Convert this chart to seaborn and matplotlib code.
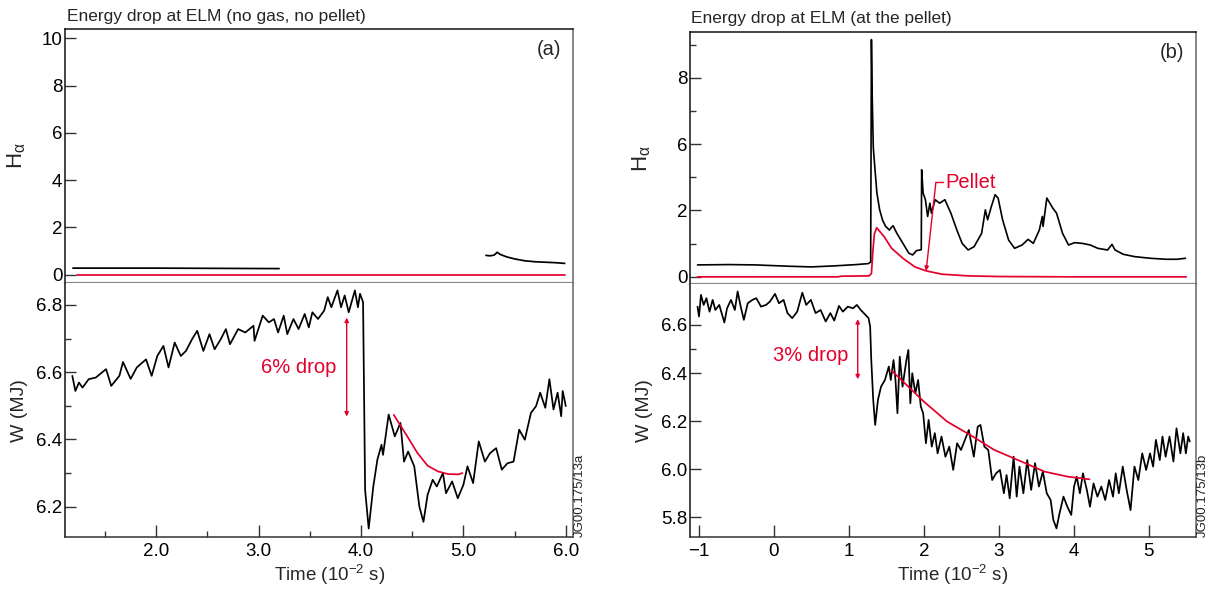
import numpy as np
import matplotlib
matplotlib.use("Agg")
import matplotlib.pyplot as plt
import seaborn as sns

# ---------------- data ----------------
# Panel (a): H-alpha (black, two segments) and red trace
a_ha1_t = [1.186, 2.0, 2.6, 3.2]
a_ha1_v = [0.28, 0.28, 0.27, 0.26]
a_ha2_t = [5.22, 5.26, 5.30, 5.33, 5.36, 5.42, 5.50, 5.60, 5.70, 5.80, 5.90, 5.99]
a_ha2_v = [0.82, 0.80, 0.83, 0.95, 0.86, 0.76, 0.67, 0.59, 0.55, 0.53, 0.51, 0.48]
a_red_t = [1.23, 5.99]
a_red_v = [0.0, 0.0]

# Panel (a): stored energy W (MJ)
a_w_t = [1.18, 1.21, 1.245, 1.28, 1.34, 1.41, 1.51, 1.56, 1.64, 1.675,
         1.75, 1.81, 1.90, 1.955, 2.01, 2.07, 2.12, 2.18, 2.24, 2.29,
         2.35, 2.40, 2.46, 2.52, 2.57, 2.63, 2.68, 2.72, 2.80, 2.87,
         2.95, 2.96, 3.04, 3.10, 3.15, 3.19, 3.245, 3.28, 3.34, 3.39,
         3.45, 3.49, 3.525, 3.58, 3.64, 3.675, 3.71, 3.77, 3.805, 3.84,
         3.88, 3.94, 3.97, 3.99, 4.02, 4.04, 4.075, 4.12, 4.16, 4.20,
         4.215, 4.27, 4.33, 4.385, 4.42, 4.46, 4.52, 4.57, 4.61, 4.65,
         4.70, 4.74, 4.80, 4.83, 4.89, 4.945, 5.00, 5.04, 5.095, 5.15,
         5.21, 5.26, 5.32, 5.375, 5.43, 5.49, 5.545, 5.60, 5.66, 5.71,
         5.75, 5.80, 5.84, 5.88, 5.92, 5.955, 5.97, 6.00]
a_w_v = [6.589, 6.544, 6.569, 6.554, 6.579, 6.584, 6.609, 6.559, 6.589, 6.630,
         6.580, 6.614, 6.638, 6.589, 6.648, 6.678, 6.614, 6.688, 6.648, 6.663,
         6.698, 6.723, 6.663, 6.713, 6.668, 6.698, 6.728, 6.683, 6.728, 6.718,
         6.738, 6.693, 6.768, 6.748, 6.758, 6.718, 6.768, 6.713, 6.758, 6.728,
         6.773, 6.733, 6.778, 6.758, 6.783, 6.823, 6.793, 6.843, 6.793, 6.828,
         6.778, 6.843, 6.793, 6.833, 6.808, 6.250, 6.135, 6.260, 6.340, 6.384,
         6.354, 6.474, 6.409, 6.449, 6.334, 6.364, 6.320, 6.200, 6.155, 6.235,
         6.280, 6.260, 6.300, 6.240, 6.275, 6.225, 6.265, 6.320, 6.270, 6.394,
         6.334, 6.359, 6.374, 6.310, 6.329, 6.334, 6.429, 6.399, 6.479, 6.499,
         6.539, 6.494, 6.579, 6.489, 6.539, 6.469, 6.544, 6.499]
a_fit_t = [4.32, 4.45, 4.55, 4.65, 4.75, 4.85, 4.95, 4.99]
a_fit_v = [6.473, 6.41, 6.36, 6.322, 6.305, 6.297, 6.296, 6.300]

# Panel (b): H-alpha (black) and pellet trace (red)
b_ha_t = [-1.02, -0.6, -0.25, 0.2, 0.5, 0.8, 1.1, 1.26, 1.29, 1.30,
          1.31, 1.325, 1.337, 1.373, 1.41, 1.45, 1.49, 1.54, 1.57, 1.59,
          1.62, 1.64, 1.72, 1.80, 1.85, 1.90, 1.95, 1.965, 1.97, 1.99,
          2.02, 2.05, 2.08, 2.10, 2.15, 2.21, 2.28, 2.36, 2.44, 2.51,
          2.59, 2.67, 2.77, 2.82, 2.85, 2.90, 2.95, 2.99, 3.05, 3.13,
          3.21, 3.31, 3.39, 3.46, 3.54, 3.58, 3.59, 3.64, 3.72, 3.77,
          3.85, 3.93, 4.01, 4.11, 4.22, 4.32, 4.45, 4.51, 4.55, 4.66,
          4.81, 5.02, 5.23, 5.38, 5.49]
b_ha_v = [0.36, 0.37, 0.36, 0.32, 0.30, 0.33, 0.37, 0.40, 0.45, 9.15,
          7.5, 5.8, 5.07, 3.06, 2.04, 1.70, 1.52, 1.41, 1.50, 1.54,
          1.40, 1.31, 1.01, 0.71, 0.66, 0.79, 0.81, 0.82, 4.45, 3.05,
          2.65, 1.82, 2.44, 1.92, 2.65, 2.44, 2.65, 1.92, 1.41, 1.01,
          0.81, 0.91, 1.31, 2.04, 1.72, 2.24, 2.95, 2.75, 1.72, 1.11,
          0.86, 0.96, 1.13, 1.01, 1.41, 1.82, 1.52, 2.75, 2.14, 1.92,
          1.31, 0.96, 1.03, 1.01, 0.96, 0.86, 0.81, 0.98, 0.81, 0.68,
          0.61, 0.56, 0.53, 0.53, 0.56]
b_red_t = [-1.02, 0.85, 0.9, 1.27, 1.30, 1.32, 1.34, 1.37, 1.40, 1.47,
           1.57, 1.72, 1.88, 2.03, 2.24, 2.59, 3.0, 4.0, 5.5]
b_red_v = [0.0, 0.0, 0.02, 0.03, 0.10, 0.80, 1.30, 1.48, 1.40, 1.21,
           0.86, 0.56, 0.30, 0.18, 0.08, 0.03, 0.01, 0.0, 0.0]

# Panel (b): stored energy W (MJ)
b_w_t = [-1.02, -1.0, -0.974, -0.938, -0.901, -0.86, -0.818, -0.782, -0.73, -0.662,
         -0.626, -0.574, -0.522, -0.485, -0.444, -0.402, -0.35, -0.288, -0.236, -0.173,
         -0.106, -0.054, 0.014, 0.066, 0.128, 0.18, 0.243, 0.31, 0.378, 0.43,
         0.492, 0.555, 0.622, 0.69, 0.752, 0.804, 0.867, 0.919, 0.986, 1.054,
         1.106, 1.158, 1.22, 1.262, 1.283, 1.298, 1.324, 1.35, 1.387, 1.428,
         1.48, 1.532, 1.558, 1.595, 1.621, 1.647, 1.678, 1.715, 1.767, 1.793,
         1.819, 1.845, 1.886, 1.923, 1.959, 1.99, 2.027, 2.063, 2.105, 2.146,
         2.183, 2.235, 2.287, 2.339, 2.391, 2.443, 2.495, 2.547, 2.599, 2.666,
         2.718, 2.755, 2.807, 2.859, 2.911, 2.963, 3.015, 3.067, 3.103, 3.145,
         3.197, 3.238, 3.275, 3.327, 3.379, 3.431, 3.483, 3.535, 3.587, 3.639,
         3.691, 3.727, 3.769, 3.81, 3.862, 3.914, 3.966, 4.003, 4.039, 4.081,
         4.122, 4.174, 4.216, 4.263, 4.315, 4.367, 4.419, 4.471, 4.523, 4.559,
         4.601, 4.653, 4.705, 4.757, 4.809, 4.861, 4.913, 4.965, 5.017, 5.058,
         5.095, 5.147, 5.183, 5.225, 5.277, 5.329, 5.37, 5.422, 5.459, 5.495,
         5.526, 5.547]
b_w_v = [6.676, 6.635, 6.725, 6.683, 6.711, 6.655, 6.704, 6.662, 6.683, 6.610,
         6.669, 6.704, 6.662, 6.739, 6.676, 6.621, 6.690, 6.704, 6.711, 6.676,
         6.683, 6.697, 6.729, 6.690, 6.704, 6.649, 6.628, 6.655, 6.734, 6.683,
         6.704, 6.649, 6.662, 6.614, 6.649, 6.618, 6.679, 6.655, 6.676, 6.669,
         6.683, 6.662, 6.642, 6.628, 6.593, 6.454, 6.288, 6.184, 6.288, 6.343,
         6.371, 6.427, 6.371, 6.454, 6.371, 6.233, 6.468, 6.343, 6.454, 6.496,
         6.274, 6.399, 6.316, 6.371, 6.260, 6.233, 6.108, 6.205, 6.094, 6.150,
         6.066, 6.136, 6.052, 6.094, 5.997, 6.108, 6.080, 6.122, 6.163, 6.052,
         6.177, 6.184, 6.094, 6.080, 5.955, 5.983, 5.997, 5.900, 5.976, 5.879,
         6.052, 5.886, 6.011, 5.900, 6.038, 5.914, 6.025, 5.928, 5.990, 5.900,
         5.872, 5.789, 5.754, 5.817, 5.886, 5.844, 5.810, 5.928, 5.969, 5.900,
         5.983, 5.914, 5.844, 5.941, 5.886, 5.928, 5.872, 5.955, 5.886, 5.983,
         5.900, 6.011, 5.914, 5.830, 6.011, 5.955, 6.066, 5.997, 6.066, 6.011,
         6.122, 6.038, 6.136, 6.052, 6.136, 6.032, 6.170, 6.066, 6.150, 6.066,
         6.136, 6.115]
b_fit_t = [1.57, 2.0, 2.31, 2.62, 2.94, 3.30, 3.61, 3.92, 4.21]
b_fit_v = [6.41, 6.281, 6.198, 6.142, 6.080, 6.032, 5.990, 5.969, 5.958]

titles = ["Energy drop at ELM (no gas, no pellet)", "Energy drop at ELM (at the pellet)"]
panel_tags = ["(a)", "(b)"]
drop_labels = ["6% drop", "3% drop"]
code_labels = ["JG00.175/13a", "JG00.175/13b"]
a_xticks = [2.0, 3.0, 4.0, 5.0, 6.0]
b_xticks = [-1, 0, 1, 2, 3, 4, 5]
b_ha_ticks = [0, 2, 6, 8]

# ---------------- style ----------------
sns.set_theme(style="ticks")
plt.rcParams["font.family"] = ["Liberation Sans", "DejaVu Sans"]
plt.rcParams["mathtext.fontset"] = "custom"
plt.rcParams["mathtext.rm"] = "Liberation Sans"
plt.rcParams["mathtext.it"] = "Liberation Sans:italic"
plt.rcParams["mathtext.default"] = "rm"

RED = "#e4002b"
BLACK = "#000000"
TICK_FS = 13.5
LAB_FS = 14
TITLE_FS = 12.5
ANN_FS = 14.5

fig = plt.figure(figsize=(12.11, 5.89), dpi=100)
fig.patch.set_facecolor("white")

ax_a1 = fig.add_axes([0.0537, 0.5195, 0.4195, 0.4313])
ax_a2 = fig.add_axes([0.0537, 0.0878, 0.4195, 0.4317])
ax_b1 = fig.add_axes([0.5698, 0.5170, 0.4178, 0.4287])
ax_b2 = fig.add_axes([0.5698, 0.0878, 0.4178, 0.4292])


def style_axes(ax, top):
    ax.set_facecolor("white")
    ax.grid(False)
    for s in ax.spines.values():
        s.set_linewidth(1.1)
    ax.spines["left"].set_color("#111111")
    ax.spines["right"].set_color("#666666")
    if top:
        ax.spines["top"].set_color("#111111")
        ax.spines["bottom"].set_color("#888888")
        ax.spines["bottom"].set_linewidth(1.6)
        ax.tick_params(axis="x", which="both", bottom=False, labelbottom=False)
    else:
        ax.spines["top"].set_visible(False)
        ax.spines["bottom"].set_color("#333333")
    ax.tick_params(axis="both", which="both", direction="in", colors="#333333",
                   labelcolor="black", labelsize=TICK_FS, width=1.0)
    ax.tick_params(axis="both", which="major", length=8)
    ax.tick_params(axis="both", which="minor", length=4.5)
    ax.tick_params(axis="y", pad=2)
    ax.tick_params(axis="x", pad=4)


def line(ax, t, v, color, lw=1.25):
    sns.lineplot(x=t, y=v, ax=ax, color=color, linewidth=lw, estimator=None,
                 sort=False, legend=False)


# ---------- panel (a) ----------
line(ax_a1, a_red_t, a_red_v, RED)
line(ax_a1, a_ha1_t, a_ha1_v, BLACK)
line(ax_a1, a_ha2_t, a_ha2_v, BLACK)
ax_a1.set_xlim(1.109, 6.071)
ax_a1.set_ylim(-0.35, 10.4)
ax_a1.set_yticks([0, 2, 4, 6, 8, 10])
style_axes(ax_a1, True)

line(ax_a2, a_w_t, a_w_v, BLACK)
line(ax_a2, a_fit_t, a_fit_v, RED)
ax_a2.set_xlim(1.109, 6.071)
ax_a2.set_ylim(6.109, 6.865)
ax_a2.set_yticks([6.2, 6.4, 6.6, 6.8])
ax_a2.set_yticks([6.3, 6.5, 6.7], minor=True)
ax_a2.set_xticks(a_xticks)
ax_a2.set_xticklabels([f"{v:.1f}" for v in a_xticks])
ax_a2.set_xticks([1.5, 2.5, 3.5, 4.5, 5.5], minor=True)
style_axes(ax_a2, False)
ax_a2.tick_params(axis="x", which="major", length=9)

# ---------- panel (b) ----------
def fwd(v):
    v = np.asarray(v, dtype=float)
    return np.where(v <= 2, v, np.where(v <= 6, 2 + (v - 2) / 2.0, v - 2))


def inv(t):
    t = np.asarray(t, dtype=float)
    return np.where(t <= 2, t, np.where(t <= 4, 2 + 2 * (t - 2), t + 2))


line(ax_b1, b_red_t, b_red_v, RED)
line(ax_b1, b_ha_t, b_ha_v, BLACK, lw=1.2)
ax_b1.set_yscale("function", functions=(fwd, inv))
ax_b1.set_xlim(-1.12, 5.63)
ax_b1.set_ylim(-0.23, 9.38)
ax_b1.set_yticks(b_ha_ticks)
ax_b1.set_yticklabels([str(v) for v in b_ha_ticks])
ax_b1.set_yticks([1, 4, 7, 9], minor=True)
ax_b1.yaxis.set_minor_formatter(matplotlib.ticker.NullFormatter())
style_axes(ax_b1, True)

line(ax_b2, b_w_t, b_w_v, BLACK)
line(ax_b2, b_fit_t, b_fit_v, RED)
ax_b2.set_xlim(-1.12, 5.63)
ax_b2.set_ylim(5.717, 6.768)
ax_b2.set_yticks([5.8, 6.0, 6.2, 6.4, 6.6])
ax_b2.set_yticks([6.5], minor=True)
ax_b2.set_xticks(b_xticks)
ax_b2.set_xticklabels([("\u2212" + str(-v)) if v < 0 else str(v) for v in b_xticks])
style_axes(ax_b2, False)
ax_b2.tick_params(axis="x", which="major", length=9)

# ---------- labels ----------
for ax1, ax2, tag in [(ax_a1, ax_a2, panel_tags[0]), (ax_b1, ax_b2, panel_tags[1])]:
    ax1.set_ylabel(r"H$_{\alpha}$", fontsize=16)
    ax1.yaxis.set_label_coords(-0.073, 0.5)
    ax2.set_ylabel("W (MJ)", fontsize=LAB_FS)
    ax2.yaxis.set_label_coords(-0.073, 0.5)
    ax2.set_xlabel(r"Time (10$^{\mathrm{-2}}$ s)", fontsize=13.5)
    ax2.xaxis.set_label_coords(0.52, -0.102)
    ax1.text(0.953, 0.92, tag, transform=ax1.transAxes, ha="center", va="center",
             fontsize=ANN_FS)

fig.text(0.0553, 1 - 21 / 589, titles[0], fontsize=TITLE_FS, ha="left", va="baseline")
fig.text(0.5706, 1 - 23 / 589, titles[1], fontsize=TITLE_FS, ha="left", va="baseline")

fig.text(580 / 1211, 1 - 537 / 589, code_labels[0], rotation=90, fontsize=9.5,
         ha="center", va="bottom", color="#222222")
fig.text(1203 / 1211, 1 - 537 / 589, code_labels[1], rotation=90, fontsize=9.5,
         ha="center", va="bottom", color="#222222")

# drop arrows
arrow_kw = dict(arrowstyle="<|-|>", color=RED, lw=1.0, mutation_scale=6,
                shrinkA=0, shrinkB=0)
ax_a2.annotate("", xy=(3.86, 6.468), xytext=(3.86, 6.762), arrowprops=arrow_kw)
ax_a2.text(3.76, 6.613, drop_labels[0], color=RED, fontsize=ANN_FS, ha="right", va="center")
ax_b2.annotate("", xy=(1.117, 6.374), xytext=(1.117, 6.624), arrowprops=arrow_kw)
ax_b2.text(0.99, 6.471, drop_labels[1], color=RED, fontsize=ANN_FS, ha="right", va="center")

# pellet marker
ax_b1.plot([2.16, 2.25], [3.7, 3.7], color=RED, lw=1.0)
ax_b1.annotate("", xy=(2.03, 0.18), xytext=(2.16, 3.7),
               arrowprops=dict(arrowstyle="-|>", color=RED, lw=1.0, mutation_scale=6,
                               shrinkA=0, shrinkB=0))
ax_b1.text(2.29, 3.7, "Pellet", color=RED, fontsize=ANN_FS, ha="left", va="center")

fig.savefig("out.png", dpi=100, facecolor="white")
